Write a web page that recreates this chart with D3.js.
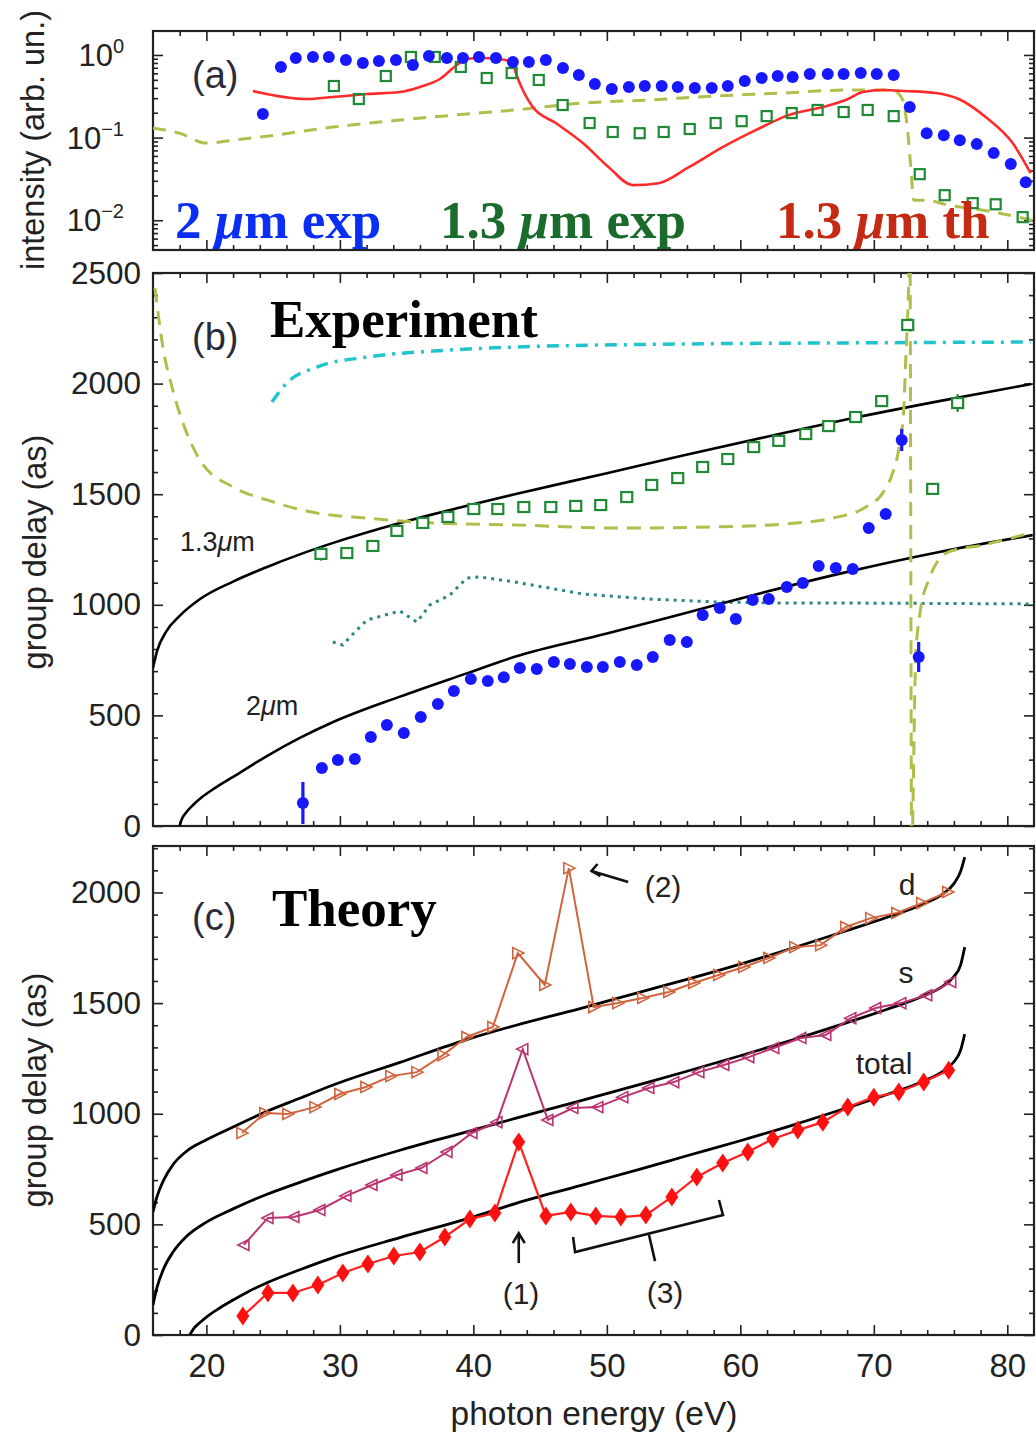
<!DOCTYPE html>
<html><head><meta charset="utf-8">
<script src="https://cdn.jsdelivr.net/npm/d3@7"></script>
<style>body{margin:0;background:#fff}svg{display:block}</style>
</head><body>
<svg id="chart" width="1036" height="1437"></svg>
<script>
// ---------------- DATA ----------------
const xMajorTicks = [20, 30, 40, 50, 60, 70, 80];
const bTickLabels = [0, 500, 1000, 1500, 2000, 2500];
const cTickLabels = [0, 500, 1000, 1500, 2000];
const aTickValues = [1, 0.1, 0.01];
const aTickExp = ["0", "\u22121", "\u22122"];

// Panel (a): intensity
const aBlueE = [24.23,25.58,26.70,27.98,29.17,30.45,31.72,32.92,34.20,35.47,36.67,38.02,39.22,40.42,41.69,42.96,44.16,45.43,46.71,47.90,49.10,50.37,51.65,52.84,54.11,55.31,56.59,57.86,59.06,60.33,61.60,62.80,63.92,65.20,66.55,67.74,69.02,70.22,71.49,72.69,73.96,75.24,76.44,77.71,78.98,80.26,81.38];
const aBlueI = [0.193,0.716,0.92,0.946,0.946,0.87,0.80,0.846,0.87,0.757,0.97,0.92,0.92,0.946,0.92,0.823,0.823,0.87,0.696,0.573,0.445,0.387,0.41,0.421,0.421,0.41,0.398,0.398,0.421,0.484,0.526,0.556,0.541,0.588,0.588,0.588,0.605,0.588,0.573,0.234,0.113,0.107,0.093,0.0834,0.0649,0.0478,0.0289];
const aGreenE = [29.55,31.42,33.44,35.32,37.11,39.06,41.00,42.87,44.90,46.69,48.71,50.44,52.46,54.26,56.21,58.15,60.10,61.97,63.85,65.79,67.74,69.54,71.49,73.44,75.31,77.41,79.13,81.15];
const aGreenI = [0.421,0.293,0.556,0.946,0.946,0.716,0.526,0.605,0.498,0.248,0.150,0.117,0.113,0.117,0.127,0.150,0.158,0.182,0.198,0.216,0.204,0.216,0.182,0.0361,0.0201,0.0161,0.0156,0.0109];
const aThE = [23.48,27.53,29.47,32.02,34.49,35.99,37.49,38.76,39.51,40.48,41.98,42.95,43.18,43.70,44.45,46.17,48.20,50.14,51.94,53.89,56.14,58.68,61.15,63.62,66.17,67.89,69.17,70.66,72.39,74.63,76.36,78.38,80.40,81.75];
const aThI = [0.366,0.293,0.31,0.337,0.356,0.41,0.512,0.757,0.894,0.92,0.894,0.80,0.605,0.377,0.234,0.150,0.0858,0.0439,0.0266,0.0281,0.0439,0.0767,0.123,0.187,0.234,0.285,0.356,0.377,0.366,0.346,0.293,0.177,0.0858,0.0371];
const aDashE = [16.0,18.0,20.0,22.0,24.53,29.47,34.49,39.51,43.10,48.20,53.14,58.16,63.18,68.12,71.42,72.17,72.55,72.77,73.0,73.9,75.6,78.2,81.9];
const aDashI = [0.130,0.113,0.0858,0.093,0.104,0.134,0.163,0.193,0.216,0.262,0.285,0.319,0.346,0.377,0.377,0.285,0.113,0.0439,0.0175,0.0175,0.0152,0.0132,0.0100];

// Panel (b): experiment group delay
const bBlueE = [27.23,28.65,29.85,31.12,32.32,33.52,34.79,36.06,37.34,38.54,39.81,41.08,42.28,43.48,44.75,46.03,47.23,48.50,49.70,50.97,52.24,53.44,54.71,55.99,57.18,58.46,59.66,60.93,62.13,63.48,64.68,65.87,67.15,68.42,69.62,70.89,72.09,73.36];
const bBlueD = [104,262,298,303,402,457,420,493,552,610,664,655,673,714,710,741,732,719,719,741,728,764,841,832,954,986,936,1022,1026,1080,1099,1175,1166,1162,1347,1410,1745,764];
const bBlueErr = [95,20,12,12,12,12,12,15,15,15,15,15,15,15,15,20,20,20,20,20,20,15,20,25,25,20,20,20,20,20,20,20,20,20,25,20,50,68];
const bGreenE = [28.58,30.52,32.47,34.27,36.21,38.09,40.03,41.83,43.78,45.80,47.67,49.54,51.49,53.36,55.31,57.18,59.06,61.00,62.88,64.90,66.62,68.64,70.59,72.54,74.41,76.28];
const bGreenD = [1230,1234,1266,1334,1370,1397,1433,1433,1442,1442,1447,1451,1487,1542,1573,1623,1659,1713,1741,1772,1808,1849,1921,2265,1524,1912];
const bGreenErr = [30,0,0,0,0,0,0,0,0,0,0,0,0,0,0,0,0,0,0,0,0,0,0,0,20,40];
const b13E = [16.0,16.3,17.0,18.0,19.5,22.0,24.5,27.0,29.5,34.5,39.0,43.1,50.0,55.7,62.0,68.1,75.0,81.8];
const b13D = [714,790,880,950,1025,1105,1170,1228,1280,1370,1440,1500,1595,1675,1760,1840,1922,1998];
const b2E = [18.0,18.15,18.5,19.0,19.7,20.6,22.0,24.5,27.0,29.5,34.5,39.5,43.1,50.0,55.7,62.0,68.1,75.0,81.9];
const b2D = [0,30,62,95,132,170,222,315,398,470,585,690,765,870,960,1060,1150,1240,1315];
const bCyanE = [24.91,26.03,28.28,32.02,36.96,43.10,55.68,68.12,81.75];
const bCyanD = [1917,2003,2075,2120,2147,2165,2179,2184,2188];
const bTealE = [29.47,30.22,30.75,32.02,34.49,35.77,36.74,38.24,39.51,40.48,43.10,48.20,53.14,58.16,63.18,68.12,81.75];
const bTealD = [832,818,854,931,972,922,999,1044,1121,1126,1103,1049,1026,1013,1008,1008,1004];
const bOliveE = [16.15,16.74,17.42,18.17,19.51,21.98,24.53,28.27,32.02,36.96,43.10,50.67,58.16,63.18,66.92,69.40,70.66,71.41,71.86,72.24,72.39,72.62,72.70,72.84,72.95,73.00,73.14,73.44,74.11,75.61,78.15,81.75];
const bOliveD = [2432,2165,1985,1835,1655,1533,1474,1415,1392,1370,1361,1347,1352,1365,1392,1442,1505,1596,1700,1881,2107,2468,2700,-200,150,344,764,954,1112,1239,1270,1325];

// Panel (c): theory group delay
const cdE = [22.66,24.38,26.10,28.13,30.00,31.95,33.82,35.77,37.72,39.51,41.46,43.33,45.35,47.15,49.02,50.82,52.69,54.64,56.51,58.38,60.26,62.13,64.08,66.02,67.90,69.77,71.72,73.59,75.54];
const cdD = [913,1003,999,1030,1089,1121,1170,1188,1265,1347,1392,1726,1582,2110,1482,1500,1523,1550,1591,1627,1663,1704,1753,1762,1844,1884,1907,1952,2002];
const csE = [22.81,24.61,26.55,28.50,30.45,32.40,34.27,36.14,38.02,39.89,41.76,43.70,45.58,47.45,49.32,51.19,53.14,55.01,56.89,58.76,60.63,62.50,64.53,66.40,68.27,70.14,72.02,73.96,75.76];
const csD = [407,529,533,565,628,678,723,755,827,913,962,1292,972,1026,1030,1075,1116,1143,1188,1220,1256,1297,1342,1356,1432,1478,1500,1536,1595];
const ctE = [22.73,24.61,26.48,28.35,30.22,32.10,34.04,35.99,37.86,39.74,41.61,43.40,45.43,47.30,49.17,51.05,52.92,54.87,56.74,58.68,60.56,62.43,64.31,66.18,68.05,70.00,71.87,73.74,75.61];
const ctD = [86,190,190,226,280,321,357,375,443,524,551,872,538,556,538,533,542,624,714,777,827,886,926,962,1030,1075,1098,1143,1197];
const cdCurveE = [16.0,16.3,16.8,17.5,18.5,20.0,22.0,24.5,27.0,29.5,34.5,39.5,43.2,48.0,52.5,56.0,60.0,64.0,68.0,71.0,73.7,75.2,76.0,76.5,76.81];
const cdCurveD = [556,625,700,770,830,882,940,1010,1070,1130,1232,1335,1400,1475,1550,1607,1676,1750,1828,1888,1948,1995,2040,2095,2160];
const csCurveE = [16.0,16.3,16.8,17.5,18.5,20.0,22.0,24.5,27.0,29.5,34.5,39.5,43.2,48.0,52.5,56.0,60.0,64.0,68.0,71.0,73.7,75.2,76.0,76.5,76.81];
const csCurveD = [136,215,300,375,445,510,570,635,690,742,835,918,980,1058,1133,1192,1262,1335,1412,1472,1532,1578,1620,1672,1753];
const ctCurveE = [18.76,19.0,19.5,20.2,21.0,22.0,23.2,24.5,27.0,29.5,34.5,39.5,43.2,48.0,52.5,56.0,60.0,64.0,68.0,71.0,73.7,75.2,76.0,76.5,76.81];
const ctCurveD = [0,25,55,90,122,158,198,235,295,350,440,525,595,675,750,810,878,950,1027,1087,1147,1193,1235,1287,1360];

// ---------------- CHART ----------------
const svg = d3.select("#chart");
const SANS = "'Liberation Sans', Arial, Helvetica, sans-serif";
const SERIF = "'Liberation Serif', 'Times New Roman', serif";
const L = 153, R = 1034;
const x = d3.scaleLinear().domain([16, 82]).range([L, R]);
const P = { a: [31, 250], b: [273, 826], c: [846, 1335] };
const yA = d3.scaleLog().domain([Math.pow(10, -2.36), Math.pow(10, 0.29)]).range([P.a[1], P.a[0]]);
const yB = d3.scaleLinear().domain([0, 2500]).range([P.b[1], P.b[0]]);
const yC = d3.scaleLinear().domain([0, 2210]).range([P.c[1], P.c[0]]);

const defs = svg.append("defs");
Object.entries(P).forEach(([k, [t, b]]) => {
  defs.append("clipPath").attr("id", "clip" + k).append("rect")
    .attr("x", L).attr("y", t).attr("width", R - L).attr("height", b - t);
});

function styleAxis(g) {
  g.select(".domain").remove();
  g.selectAll(".tick line").attr("stroke", "#222").attr("stroke-width", 1.6);
}
const xMinor = d3.range(18, 82, 2).filter(v => v % 10 !== 0);

function frame(key, yScale, yMaj, yMin) {
  const [t, b] = P[key];
  const g = svg.append("g");
  g.append("g").attr("transform", `translate(0,${b})`).call(d3.axisBottom(x).tickValues(xMajorTicks).tickSize(-10).tickFormat("")).call(styleAxis);
  g.append("g").attr("transform", `translate(0,${b})`).call(d3.axisBottom(x).tickValues(xMinor).tickSize(-5).tickFormat("")).call(styleAxis);
  g.append("g").attr("transform", `translate(0,${t})`).call(d3.axisTop(x).tickValues(xMajorTicks).tickSize(-10).tickFormat("")).call(styleAxis);
  g.append("g").attr("transform", `translate(0,${t})`).call(d3.axisTop(x).tickValues(xMinor).tickSize(-5).tickFormat("")).call(styleAxis);
  g.append("g").attr("transform", `translate(${L},0)`).call(d3.axisLeft(yScale).tickValues(yMaj).tickSize(-10).tickFormat("")).call(styleAxis);
  g.append("g").attr("transform", `translate(${L},0)`).call(d3.axisLeft(yScale).tickValues(yMin).tickSize(-5).tickFormat("")).call(styleAxis);
  g.append("g").attr("transform", `translate(${R},0)`).call(d3.axisRight(yScale).tickValues(yMaj).tickSize(-10).tickFormat("")).call(styleAxis);
  g.append("g").attr("transform", `translate(${R},0)`).call(d3.axisRight(yScale).tickValues(yMin).tickSize(-5).tickFormat("")).call(styleAxis);
  g.append("rect").attr("x", L).attr("y", t).attr("width", R - L).attr("height", b - t)
    .attr("fill", "none").attr("stroke", "#222").attr("stroke-width", 2.2);
}

const aMinor = [];
[0.001, 0.01, 0.1].forEach(d => [2,3,4,5,6,7,8,9].forEach(m => { const v = d * m; if (v > Math.pow(10,-2.36) && v < Math.pow(10,0.29)) aMinor.push(v); }));
frame("a", yA, aTickValues, aMinor);
frame("b", yB, bTickLabels, d3.range(100, 2500, 100).filter(v => v % 500 !== 0));
frame("c", yC, cTickLabels, d3.range(100, 2210, 100).filter(v => v % 500 !== 0));

// tick labels
aTickValues.forEach((v, i) => {
  const t = svg.append("text").attr("x", 124).attr("y", yA(v) + 11)
    .attr("text-anchor", "end").attr("font-family", SANS).attr("font-size", 31).attr("fill", "#222");
  t.append("tspan").text("10");
  t.append("tspan").attr("dy", -13).attr("font-size", 20).text(aTickExp[i]);
});
function yLabels(yScale, vals) {
  svg.append("g").attr("transform", `translate(${L},0)`)
    .call(d3.axisLeft(yScale).tickValues(vals).tickSize(0).tickPadding(12).tickFormat(d3.format("d")))
    .call(g => g.select(".domain").remove())
    .selectAll("text").attr("font-family", SANS).attr("font-size", 31.5).attr("fill", "#222");
}
yLabels(yB, bTickLabels);
yLabels(yC, cTickLabels);
svg.append("g").attr("transform", `translate(0,${P.c[1]})`)
  .call(d3.axisBottom(x).tickValues(xMajorTicks).tickSize(0).tickPadding(19).tickFormat(d3.format("d")))
  .call(g => g.select(".domain").remove())
  .selectAll("text").attr("font-family", SANS).attr("font-size", 33).attr("fill", "#222");

// axis titles
function vTitle(txt, cx, cy) {
  svg.append("text").attr("transform", `translate(${cx},${cy}) rotate(-90)`).attr("text-anchor", "middle")
    .attr("font-family", SANS).attr("font-size", 32.5).attr("fill", "#222").text(txt);
}
vTitle("intensity (arb. un.)", 44, 140);
vTitle("group delay (as)", 46, 552);
vTitle("group delay (as)", 46, 1090);
svg.append("text").attr("x", 594).attr("y", 1425).attr("text-anchor", "middle")
  .attr("font-family", SANS).attr("font-size", 33.5).attr("fill", "#222").text("photon energy (eV)");

// helpers
const pairs = (xs, ys) => xs.map((v, i) => [v, ys[i]]);
function line(g, xs, ys, yS, o) {
  g.append("path").datum(pairs(xs, ys))
    .attr("d", d3.line().x(d => x(d[0])).y(d => yS(d[1])).curve(o.curve || d3.curveLinear))
    .attr("fill", "none").attr("stroke", o.color).attr("stroke-width", o.w || 2)
    .attr("stroke-dasharray", o.dash || null).attr("stroke-linecap", o.cap || "butt");
}

// ---------- Panel (a) ----------
const gA = svg.append("g").attr("clip-path", "url(#clipa)");
line(gA, aDashE, aDashI, yA, { color: "#b3bd4c", w: 3, dash: "13,9", curve: d3.curveMonotoneX });
line(gA, aThE, aThI, yA, { color: "#ff2a2a", w: 2.6, curve: d3.curveMonotoneX });
gA.selectAll(".gsqa").data(pairs(aGreenE, aGreenI)).join("rect")
  .attr("x", d => x(d[0]) - 5).attr("y", d => yA(d[1]) - 5).attr("width", 10).attr("height", 10)
  .attr("fill", "none").attr("stroke", "#1f8a35").attr("stroke-width", 2.2);
gA.selectAll(".bdota").data(pairs(aBlueE, aBlueI)).join("circle")
  .attr("cx", d => x(d[0])).attr("cy", d => yA(d[1])).attr("r", 6).attr("fill", "#1818ff");

svg.append("text").attr("x", 192).attr("y", 88).attr("font-family", SANS).attr("font-size", 38).attr("fill", "#2b2b38").text("(a)");
function legendText(xp, parts, color) {
  const t = svg.append("text").attr("x", xp).attr("y", 238).attr("font-family", SERIF).attr("font-weight", "bold")
    .attr("font-size", 53).attr("fill", color);
  parts.forEach(p => t.append("tspan").attr("font-style", p[1] ? "italic" : "normal").text(p[0]));
}
legendText(175, [["2 ", 0], ["\u03bc", 1], ["m exp", 0]], "#0b2ef5");
legendText(440, [["1.3 ", 0], ["\u03bc", 1], ["m exp", 0]], "#1a6b2c");
legendText(776, [["1.3 ", 0], ["\u03bc", 1], ["m th", 0]], "#c52b12");

// ---------- Panel (b) ----------
const gB = svg.append("g").attr("clip-path", "url(#clipb)");
line(gB, bCyanE, bCyanD, yB, { color: "#22c4cc", w: 3.5, dash: "12,7,3,7", curve: d3.curveMonotoneX });
line(gB, bTealE, bTealD, yB, { color: "#2a8585", w: 3, dash: "3,5" });
line(gB, b13E, b13D, yB, { color: "#000", w: 2.6, curve: d3.curveMonotoneX });
line(gB, b2E, b2D, yB, { color: "#000", w: 2.6, curve: d3.curveMonotoneX });
line(gB, bOliveE, bOliveD, yB, { color: "#b3bd4c", w: 3, dash: "14,9", curve: d3.curveMonotoneX });
const gsq = pairs(bGreenE, bGreenD).map((d, i) => [d[0], d[1], bGreenErr[i]]);
gB.selectAll(".gerr").data(gsq.filter(d => d[2] > 0)).join("line")
  .attr("x1", d => x(d[0])).attr("x2", d => x(d[0])).attr("y1", d => yB(d[1] - d[2])).attr("y2", d => yB(d[1] + d[2]))
  .attr("stroke", "#1f8a35").attr("stroke-width", 2.2);
gB.selectAll(".gsqb").data(gsq).join("rect")
  .attr("x", d => x(d[0]) - 5.5).attr("y", d => yB(d[1]) - 5).attr("width", 11).attr("height", 10)
  .attr("fill", "#fff").attr("stroke", "#1f8a35").attr("stroke-width", 2.2);
const bb = pairs(bBlueE, bBlueD).map((d, i) => [d[0], d[1], bBlueErr[i]]);
gB.selectAll(".berr").data(bb).join("line")
  .attr("x1", d => x(d[0])).attr("x2", d => x(d[0])).attr("y1", d => yB(d[1] - d[2])).attr("y2", d => yB(d[1] + d[2]))
  .attr("stroke", "#1818ff").attr("stroke-width", 3.2);
gB.selectAll(".bdotb").data(bb).join("circle")
  .attr("cx", d => x(d[0])).attr("cy", d => yB(d[1])).attr("r", 6).attr("fill", "#1818ff");

svg.append("text").attr("x", 192).attr("y", 350).attr("font-family", SANS).attr("font-size", 38).attr("fill", "#2b2b38").text("(b)");
svg.append("text").attr("x", 270).attr("y", 337).attr("font-family", SERIF).attr("font-weight", "bold").attr("font-size", 53).attr("fill", "#000").text("Experiment");
function muLabel(xp, yp, pre) {
  const t = svg.append("text").attr("x", xp).attr("y", yp).attr("font-family", SANS).attr("font-size", 27).attr("fill", "#222");
  t.append("tspan").text(pre);
  t.append("tspan").attr("font-style", "italic").text("\u03bc");
  t.append("tspan").text("m");
}
muLabel(180, 551, "1.3");
muLabel(246, 715, "2");

// ---------- Panel (c) ----------
const gC = svg.append("g").attr("clip-path", "url(#clipc)");
line(gC, cdCurveE, cdCurveD, yC, { color: "#000", w: 2.8, curve: d3.curveMonotoneX });
line(gC, csCurveE, csCurveD, yC, { color: "#000", w: 2.8, curve: d3.curveMonotoneX });
line(gC, ctCurveE, ctCurveD, yC, { color: "#000", w: 2.8, curve: d3.curveMonotoneX });
line(gC, cdE, cdD, yC, { color: "#d0643e", w: 2 });
line(gC, csE, csD, yC, { color: "#bb3370", w: 2 });
line(gC, ctE, ctD, yC, { color: "#ff2020", w: 2.2 });
gC.selectAll(".tri-d").data(pairs(cdE, cdD)).join("path")
  .attr("transform", d => `translate(${x(d[0])},${yC(d[1])})`).attr("d", "M-5,-5.5L6,0L-5,5.5Z")
  .attr("fill", "none").attr("stroke", "#d0643e").attr("stroke-width", 1.6);
gC.selectAll(".tri-s").data(pairs(csE, csD)).join("path")
  .attr("transform", d => `translate(${x(d[0])},${yC(d[1])})`).attr("d", "M5,-5.5L-6,0L5,5.5Z")
  .attr("fill", "none").attr("stroke", "#bb3370").attr("stroke-width", 1.6);
gC.selectAll(".dia").data(pairs(ctE, ctD)).join("path")
  .attr("transform", d => `translate(${x(d[0])},${yC(d[1])})`).attr("d", "M0,-9.5L6.5,0L0,9.5L-6.5,0Z")
  .attr("fill", "#ff1010");

svg.append("text").attr("x", 192).attr("y", 930).attr("font-family", SANS).attr("font-size", 38).attr("fill", "#2b2b38").text("(c)");
svg.append("text").attr("x", 272).attr("y", 926).attr("font-family", SERIF).attr("font-weight", "bold").attr("font-size", 53).attr("fill", "#000").text("Theory");

function note(txt, xp, yp, anchor) {
  svg.append("text").attr("x", xp).attr("y", yp).attr("text-anchor", anchor || "middle")
    .attr("font-family", SANS).attr("font-size", 30).attr("fill", "#222").text(txt);
}
note("d", 907, 895);
note("s", 906, 983);
note("total", 884, 1074);
note("(1)", 521, 1304);
note("(2)", 663, 897);
note("(3)", 665, 1303);

const ann = svg.append("g").attr("fill", "none").attr("stroke", "#111").attr("stroke-width", 2.6);
ann.append("line").attr("x1", x(43.4)).attr("x2", x(43.4)).attr("y1", yC(325)).attr("y2", yC(455));
ann.append("path").attr("d", `M${x(43.4) - 6},${yC(415)}L${x(43.4)},${yC(460)}L${x(43.4) + 6},${yC(415)}`);
const a2x1 = x(51.6), a2y1 = yC(2047), a2x2 = x(48.85), a2y2 = yC(2097);
ann.append("line").attr("x1", a2x1).attr("y1", a2y1).attr("x2", a2x2).attr("y2", a2y2);
ann.append("path").attr("d", `M${a2x2 + 6},${a2y2 - 7}L${a2x2},${a2y2}L${a2x2 + 9},${a2y2 + 5}`);
ann.append("path").attr("d", `M${x(47.47)},${yC(443)}L${x(47.62)},${yC(375)}L${x(58.70)},${yC(542)}L${x(58.40)},${yC(610)}`);
ann.append("line").attr("x1", x(53.16)).attr("y1", yC(452)).attr("x2", x(53.61)).attr("y2", yC(334));
</script>
</body></html>
